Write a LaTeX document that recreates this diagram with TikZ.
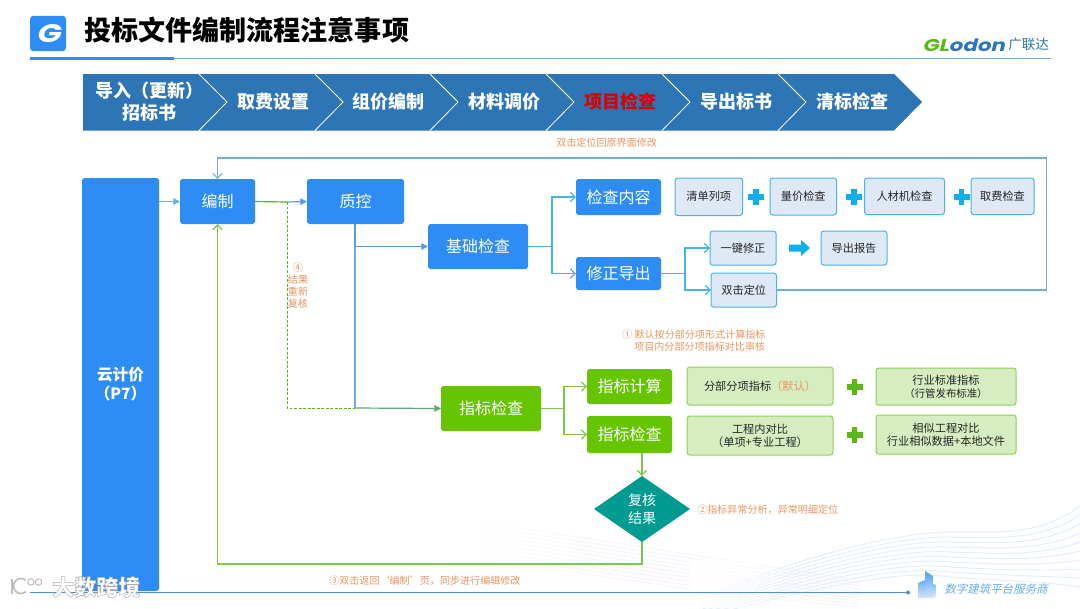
\documentclass[tikz,border=0pt]{standalone}
\usepackage{fontspec}
\usetikzlibrary{arrows.meta,shapes.geometric,fadings}
\setmainfont{Noto Sans CJK SC}
\newfontfamily\slantcjk[FakeSlant=0.25]{Noto Sans CJK SC}
\newfontfamily\glofont[FakeSlant=0.25,FakeStretch=1.25]{Poppins}
\definecolor{bandblue}{HTML}{2E75B6}
\definecolor{mainblue}{HTML}{2E8DF5}
\definecolor{linecyan}{HTML}{45B5E5}
\definecolor{fbline}{HTML}{6FAEDD}
\definecolor{midblue}{HTML}{5B9BD5}
\definecolor{softblue}{HTML}{DFE8F5}
\definecolor{softgreen}{HTML}{D5EDC0}
\definecolor{greenedge}{HTML}{8CD258}
\definecolor{maingreen}{HTML}{66C400}
\definecolor{teal}{HTML}{009B90}
\definecolor{notec}{HTML}{EB9560}
\definecolor{plusgreen}{HTML}{5CB81A}
\definecolor{pluscyan}{HTML}{0EB0EC}
\definecolor{wave}{HTML}{E3EEFB}
\definecolor{wavepale}{HTML}{F2F6FC}
\definecolor{ftblue}{HTML}{4A90D9}
\definecolor{towera}{HTML}{4F9FF0}
\newcommand\outl[1]{\special{pdf:code 2 Tr 0.35 w 0.68 G}#1\special{pdf:code 0 Tr 1 w}}
\newcommand\bx[7]{\node[#6,minimum width={(#4-#2)*0.75pt},minimum height={(#5-#3)*0.75pt},inner sep=0pt,outer sep=0pt,align=center] (#1) at ({(#2+#4)/2},{(#3+#5)/2}) {#7};}
\newcommand\plusmark[3]{\fill[#3] (#1-8,#2-2.6) rectangle (#1+8,#2+2.6);\fill[#3] (#1-2.6,#2-8) rectangle (#1+2.6,#2+8);}
\tikzset{
  fblue/.style={fill=mainblue,rounded corners=2pt,text=white,font=\fontsize{12}{14}\selectfont},
  fgreen/.style={fill=maingreen,rounded corners=2pt,text=white,font=\fontsize{12}{14}\selectfont},
  softb/.style={fill=softblue,draw=linecyan,line width=0.75pt,rounded corners=2pt,font=\fontsize{8.4}{10}\selectfont,text=black!85},
  softg/.style={fill=softgreen,draw=greenedge,line width=0.75pt,rounded corners=2pt,font=\fontsize{8.4}{10}\selectfont,text=black!85},
  bandtxt/.style={text=white,font=\fontsize{13.5}{16.5}\selectfont\bfseries,align=center,inner sep=0pt},
  notetxt/.style={text=notec,font=\fontsize{7.55}{9}\selectfont,inner sep=0pt,align=left},
  barb/.style={-{Straight Barb[length=3.6pt,width=7pt]}},
  tri/.style={-{Triangle[length=5pt,width=5pt]}},
  wv/.style={wave,line width=0.7pt},
  wvp/.style={wavepale,line width=0.7pt}
}
\begin{document}
\begin{tikzpicture}[x=0.75pt,y=-0.75pt]
\useasboundingbox (0,0) rectangle (1080,608);
\fill[white] (0,0) rectangle (1080,608);
% background waves
\begin{scope}
\clip (0,500) rectangle (1080,608);
\foreach \i in {0,...,9}{
  \draw[wvp] (480,{522+\i*4}) .. controls (600,{540+\i*4}) and (720,{560+\i*4}) .. (860,{580+\i*3});
  \draw[wv] (700,{600+\i*2}) .. controls (800,{555+\i*4}) and (900,{532+\i*4}) .. (950,{532+\i*5});
  \draw[wv] (950,{532+\i*5}) .. controls (1000,{532+\i*5.4}) and (1040,{536+\i*5}) .. (1080,{506+\i*9});
}
\fill[white,path fading=east] (470,500) rectangle (620,608);
\fill[white,path fading=east] (690,560) rectangle (800,608);
\end{scope}
% header
\node[fill=mainblue,rounded corners=2.5pt,minimum width=27pt,minimum height=26.5pt,inner sep=0pt] (logo) at (48,33.5) {};
\node[text=white,font=\fontsize{19}{19}\selectfont\bfseries\glofont,inner sep=0pt] (logoG) at (48,34) {G};
\node[anchor=west,inner sep=0pt,font=\fontsize{20.3}{24}\selectfont\bfseries] (title) at (84,30) {投标文件编制流程注意事项};
\coordinate (hlA) at (30,58.5);
\coordinate (hlB) at (174,58.5);
\coordinate (hlC) at (1051,58.5);
\draw[fbline,line width=0.75pt] (hlA) -- (hlC);
\draw[mainblue,line width=2pt] (hlA) -- (hlB);
\node[anchor=west,inner sep=0pt,font=\fontsize{12.8}{14}\selectfont\bfseries\glofont] (glo) at (922,45) {\textcolor{plusgreen}{GL}\textcolor{bandblue}{odon}};
\node[anchor=west,inner sep=0pt,text=bandblue,font=\fontsize{10.2}{11}\selectfont] (gl2) at (1008,44.5) {广联达};
% chevron band
\fill[bandblue] (83,74) -- (894,74) -- (922,102) -- (894,130.5) -- (83,130.5) -- cycle;
\foreach \a in {199,315,430,546,662,778}{
  \draw[white,line width=0.6pt] (\a,74) -- ({\a+28},102) -- (\a,130.5);
}
\node[bandtxt] (s1) at (149,102) {导入（更新）\\招标书};
\node[bandtxt] (s2) at (273,102) {取费设置};
\node[bandtxt] (s3) at (388,102) {组价编制};
\node[bandtxt] (s4) at (504,102) {材料调价};
\node[bandtxt,text=red!85!black] (s5) at (620,102) {项目检查};
\node[bandtxt] (s6) at (736,102) {导出标书};
\node[bandtxt] (s7) at (852,102) {清标检查};
% main nodes
\bx{yjj}{82}{178}{159}{591}{fblue,font=\fontsize{11.7}{14.2}\selectfont\bfseries}{云计价\\（P7）}
\bx{bz}{180}{179}{255}{224}{fblue}{编制}
\bx{zk}{307}{179}{404}{224}{fblue}{质控}
\bx{jc}{428}{224}{528}{269}{fblue}{基础检查}
\bx{nr}{576}{179}{661}{215}{fblue}{检查内容}
\bx{xz}{576}{257}{661}{290}{fblue}{修正导出}
\bx{qd}{675}{178}{742.5}{215.5}{softb}{清单列项}
\bx{lj}{770}{178}{836.5}{215}{softb}{量价检查}
\bx{rc}{864.5}{178}{944.5}{214.5}{softb}{人材机检查}
\bx{qf}{971}{178}{1034}{214.5}{softb}{取费检查}
\bx{yj}{710}{231}{776}{265}{softb}{一键修正}
\bx{dc}{821}{231}{887}{265}{softb}{导出报告}
\bx{dj}{711}{273}{776.5}{307}{softb}{双击定位}
\bx{zb}{441}{386}{541}{431}{fgreen}{指标检查}
\bx{js}{587}{369}{672}{404}{fgreen}{指标计算}
\bx{jcc}{587}{416}{672}{453}{fgreen}{指标检查}
\bx{g1}{687}{367}{833}{405}{softg}{分部分项指标\textcolor{notec}{（默认）}}
\bx{g2}{876}{368}{1016}{405}{softg}{行业标准指标\\{\fontsize{7.8}{9}\selectfont（行管发布标准）}}
\bx{g3}{687}{416}{833}{455}{softg}{工程内对比\\（单项+专业工程）}
\bx{g4}{876}{415}{1016}{454}{softg}{相似工程对比\\行业相似数据+本地文件}
\node[diamond,fill=teal,text=white,minimum width=72pt,minimum height=49.5pt,inner sep=0pt,outer sep=0pt,align=center,font=\fontsize{10.5}{13.5}\selectfont] (fh) at (642,509) {复核\\结果};
% plus marks and block arrow
\plusmark{756}{197}{pluscyan}
\plusmark{854}{197}{pluscyan}
\plusmark{961.5}{197}{pluscyan}
\plusmark{854.5}{387}{plusgreen}
\plusmark{854.5}{435}{plusgreen}
\fill[pluscyan] (789,244.5) -- (801,244.5) -- (801,240) -- (810,248) -- (801,256) -- (801,251.5) -- (789,251.5) -- cycle;
% connectors
\coordinate (fbA) at (1046.5,158);
\draw[fbline,line width=0.8pt,barb] (dj.east) -| (fbA) -| (bz.north);
\draw[fbline,line width=0.8pt,tri] (yjj.east |- bz.west) -- (bz.west);
\coordinate (dsh) at (287,202);
\draw[plusgreen,line width=0.9pt] (bz.east) -- (dsh);
\draw[midblue,line width=0.9pt,tri] (dsh) -- (zk.west);
\coordinate (dshB) at (287,408);
\coordinate (zkD) at (355,408);
\coordinate (zkM) at (355,246.5);
\draw[plusgreen,line width=0.7pt,dash pattern=on 2.2pt off 1.2pt] (dsh) -- (dshB) -- (zkD);
\draw[fbline,line width=0.9pt] (zkM) -- (zkD);
\draw[midblue,line width=1pt] (zk.south -| zkM) -- (zkM);
\draw[midblue,line width=0.9pt,tri] (zkM) -- (jc.west);
\draw[plusgreen!50!midblue,line width=0.9pt,tri] (zkD) -- (zb.west);
\coordinate (b1) at (552,246.5);
\draw[linecyan,line width=0.9pt] (jc.east) -- (b1);
\draw[linecyan,line width=0.9pt,barb] (b1) |- (nr.west);
\draw[linecyan,line width=0.9pt,barb] (b1) |- (xz.west);
\coordinate (b2) at (685,273.5);
\draw[linecyan,line width=0.9pt] (xz.east) -- (b2);
\draw[linecyan,line width=0.9pt,barb] (b2) |- (yj.west);
\draw[linecyan,line width=0.9pt,barb] (b2) |- (dj.west);
\coordinate (b3) at (564,408.5);
\draw[plusgreen!80!white,line width=0.9pt] (zb.east) -- (b3);
\draw[plusgreen!80!white,line width=0.9pt,barb] (b3) |- (js.west);
\draw[plusgreen!80!white,line width=0.9pt,barb] (b3) |- (jcc.west);
\draw[plusgreen!80!white,line width=0.9pt,barb] (jcc.south -| fh.north) -- (fh.north);
\coordinate (rt) at (642,564);
\draw[plusgreen!80!white,line width=0.9pt,barb] (fh.south) -- (rt) -| (bz.south);
% notes
\node[notetxt,anchor=west] (n0) at (556,143) {双击定位回原界面修改};
\node[notetxt,anchor=west] (n1) at (622,335) {① 默认按分部分项形式计算指标};
\node[notetxt,anchor=west] (n1b) at (634,347) {项目内分部分项指标对比审核};
\node[notetxt,anchor=west] (n2) at (697,510) {②指标异常分析，异常明细定位};
\node[notetxt,anchor=west] (n3) at (329,581) {③双击返回‘编制’页，同步进行编辑修改};
\node[notetxt,align=center,font=\fontsize{7.55}{9}\selectfont] (n4) at (298,286) {④\\结果\\重新\\复核};
% footer
\coordinate (ftA) at (30,592.5);
\coordinate (ftB) at (908,592.5);
\draw[ftblue,line width=0.85pt] (ftA) -- (ftB);
\fill[ftblue] (ftB) circle (2);
\shade[top color=towera,bottom color=towera!25!white] (925,571) -- (933,576) -- (933,598) -- (925,598) -- cycle;
\shade[top color=towera!85!white,bottom color=towera!25!white] (918,583) -- (925,580) -- (925,598) -- (918,598) -- cycle;
\shade[top color=towera!70!white,bottom color=towera!15!white] (933,584) -- (936.5,585) -- (936.5,598) -- (933,598) -- cycle;
\node[anchor=west,inner sep=0pt,text=towera!85!white,font=\fontsize{8.6}{10}\selectfont\slantcjk] (ft) at (944,589) {数字建筑平台服务商};
% watermark
\draw[black!25,line width=1.1pt] (12,579) -- (12,594);
\draw[black!25,line width=1.3pt] (21,586) ++(-50:7.5) arc (-50:-310:7.5);
\draw[black!25,line width=0.8pt] (31,582) circle (3.2);
\draw[black!25,line width=0.8pt] (38.5,582) circle (3.2);
\node[anchor=west,inner sep=0pt,text=white,font=\fontsize{16.5}{18}\selectfont\bfseries] (wm) at (52,587) {\outl{大数跨境}};
\end{tikzpicture}
\end{document}
